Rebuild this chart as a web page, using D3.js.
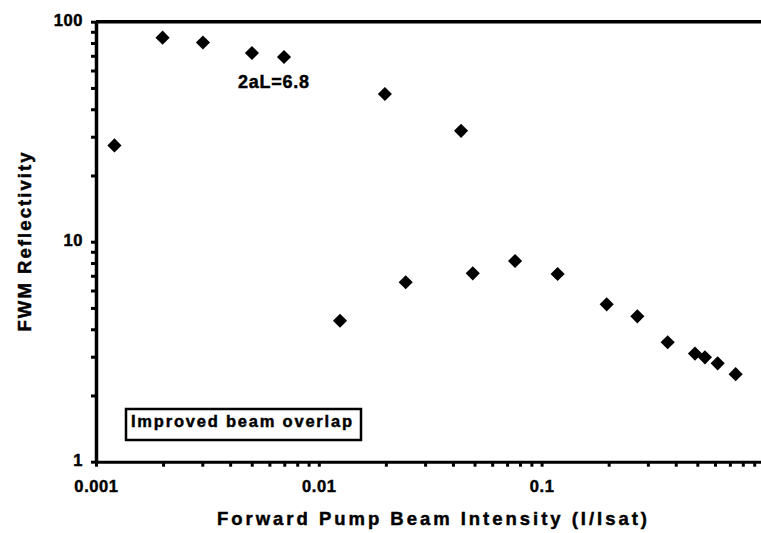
<!DOCTYPE html>
<html>
<head>
<meta charset="utf-8">
<script src="https://cdn.jsdelivr.net/npm/d3@7"></script>
<style>
  html, body { margin: 0; padding: 0; background: #fff; }
  svg { display: block; }
  text { font-family: "Liberation Sans", Arial, sans-serif; font-weight: bold; fill: #000; stroke: #000; stroke-width: 0.45px; }
</style>
</head>
<body>
<svg id="chart" width="761" height="533"></svg>
<script>
// Upper series (2aL = 6.8)
const upperIntensity = [0.00121, 0.00199, 0.00302, 0.00501, 0.00698, 0.0198, 0.0435];
const upperReflectivity = [27.4, 84.6, 80.4, 72.1, 69.1, 46.9, 31.9];
// Lower series (improved beam overlap)
const lowerIntensity = [0.01245, 0.02455, 0.0491, 0.076, 0.118, 0.196, 0.269, 0.368, 0.488, 0.541, 0.617, 0.743];
const lowerReflectivity = [4.37, 6.54, 7.18, 8.17, 7.13, 5.19, 4.58, 3.49, 3.10, 2.98, 2.80, 2.50];

const xMajorTicks = [0.001, 0.01, 0.1];
const xTickLabels = ["0.001", "0.01", "0.1"];
const yMajorTicks = [1, 10, 100];
const yTickLabels = ["1", "10", "100"];

const xTitle = "Forward Pump Beam Intensity (I/Isat)";
const yTitle = "FWM Reflectivity";
const annotation1 = "2aL=6.8";
const annotation2 = "Improved beam overlap";

(function () {
const svg = d3.select("#chart");
const mLeft = 96, mRight = 764.4, mTop = 21.7, mBottom = 461.7;

const x = d3.scaleLog().domain([0.001, 1]).range([mLeft, mRight]);
const y = d3.scaleLog().domain([1, 100]).range([mBottom, mTop]);

// minor tick values
const xAll = [];
for (const d of [0.001, 0.01, 0.1]) for (let k = 1; k <= 9; k++) xAll.push(+(d * k).toPrecision(3));
const yAll = [];
for (const d of [1, 10]) for (let k = 1; k <= 9; k++) yAll.push(d * k);
yAll.push(100);

const fmtX = v => { const i = xMajorTicks.findIndex(t => Math.abs(t - v) / t < 1e-6); return i >= 0 ? xTickLabels[i] : ""; };
const fmtY = v => { const i = yMajorTicks.findIndex(t => Math.abs(t - v) / t < 1e-6); return i >= 0 ? yTickLabels[i] : ""; };

// Bottom axis
const gx = svg.append("g").attr("transform", `translate(0,${mBottom})`)
  .call(d3.axisBottom(x).tickValues(xAll).tickFormat(fmtX).tickSize(5).tickSizeOuter(0).tickPadding(14));
gx.select(".domain").attr("stroke", "#000").attr("stroke-width", 3);
gx.selectAll(".tick line").attr("stroke", "#000").attr("stroke-width", 3);
gx.selectAll(".tick text").style("font-size", "16.5px").attr("dy", "0.71em").attr("letter-spacing", "0.6px");

// Left axis
const gy = svg.append("g").attr("transform", `translate(${mLeft},0)`)
  .call(d3.axisLeft(y).tickValues(yAll).tickFormat(fmtY).tickSize(5).tickSizeOuter(0).tickPadding(8));
gy.select(".domain").attr("stroke", "#000").attr("stroke-width", 3.5);
gy.selectAll(".tick line").attr("stroke", "#000").attr("stroke-width", 3);
gy.selectAll(".tick text").style("font-size", "16.5px").attr("dy", "0.2em").attr("letter-spacing", "0.6px");

// Top border
svg.append("line").attr("x1", mLeft).attr("x2", 761).attr("y1", y(100)).attr("y2", y(100))
  .attr("stroke", "#000").attr("stroke-width", 3.5);

// Points
const sym = d3.symbol().type(d3.symbolSquare).size(100);
const pts = upperIntensity.map((v, i) => [v, upperReflectivity[i]])
  .concat(lowerIntensity.map((v, i) => [v, lowerReflectivity[i]]));
svg.append("g").selectAll("path").data(pts).join("path")
  .attr("d", sym)
  .attr("transform", d => `translate(${x(d[0])},${y(d[1])}) rotate(45)`)
  .attr("fill", "#000");

// Annotations
svg.append("text").attr("x", 238).attr("y", 88).attr("textLength", 71).attr("lengthAdjust", "spacing")
  .style("font-size", "18px").text(annotation1);

svg.append("rect").attr("x", 126).attr("y", 409).attr("width", 235).attr("height", 31)
  .attr("fill", "none").attr("stroke", "#000").attr("stroke-width", 2.5);
svg.append("text").attr("x", 131).attr("y", 427).attr("textLength", 221).attr("lengthAdjust", "spacing")
  .style("font-size", "16.5px").text(annotation2);

// Axis titles
svg.append("text").attr("x", 217).attr("y", 525).attr("textLength", 430).attr("lengthAdjust", "spacing")
  .style("font-size", "18.5px").text(xTitle);
svg.append("text").attr("transform", "translate(31,242) rotate(-90)").attr("text-anchor", "middle")
  .attr("textLength", 179).attr("lengthAdjust", "spacing")
  .style("font-size", "18.5px").text(yTitle);
})();
</script>
</body>
</html>
